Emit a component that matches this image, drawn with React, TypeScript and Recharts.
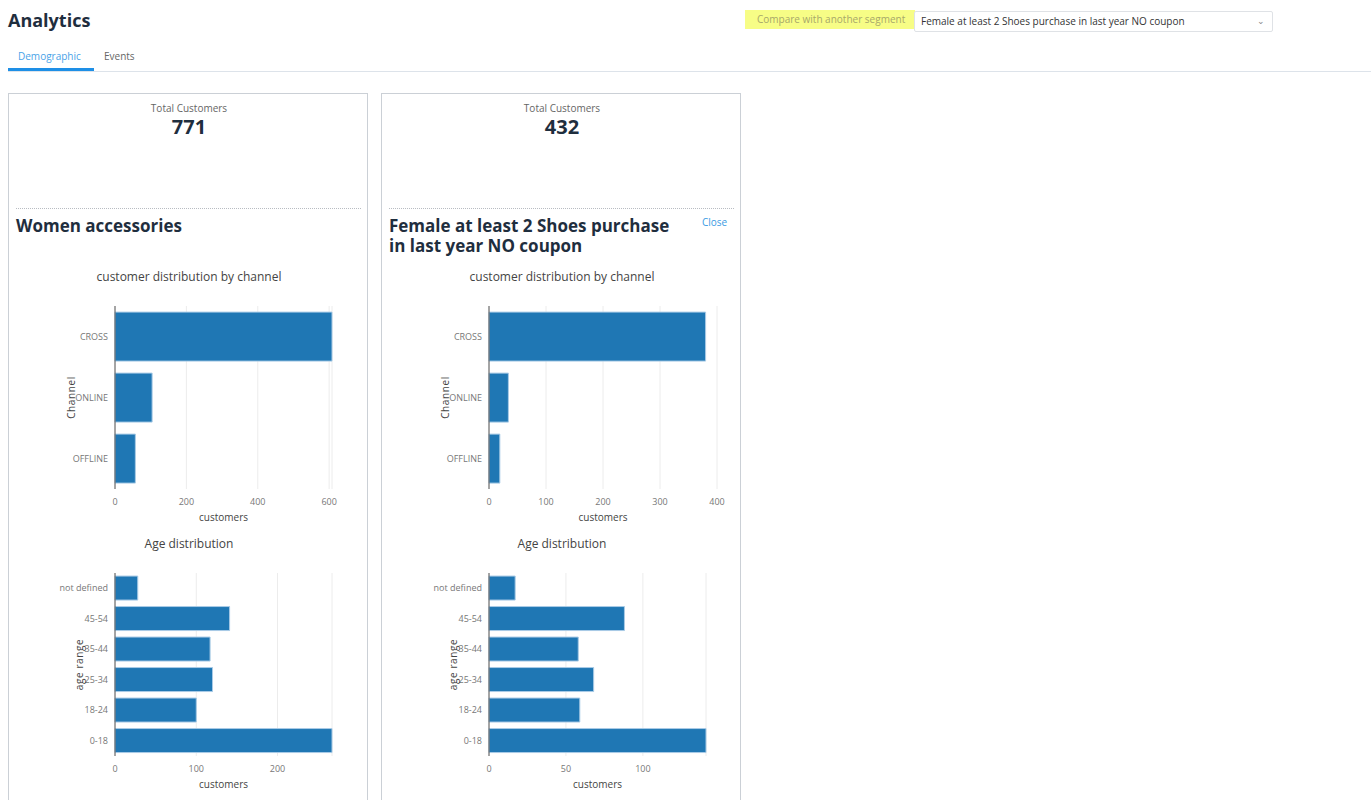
import React from 'react';
import { BarChart, Bar, XAxis, YAxis, CartesianGrid } from 'recharts';

// values
const channelCategories = ['CROSS', 'ONLINE', 'OFFLINE'];
const womenChannelValues = [608, 104, 57];
const shoesChannelValues = [380, 34, 19];

const ageCategories = ['not defined', '45-54', '35-44', '25-34', '18-24', '0-18'];
const womenAgeValues = [28, 141, 117, 120, 100, 267];
const shoesAgeValues = [17, 88, 58, 68, 59, 141];

const womenChannelTicks = [0, 200, 400, 600];
const shoesChannelTicks = [0, 100, 200, 300, 400];
const womenAgeTicks = [0, 100, 200];
const shoesAgeTicks = [0, 50, 100];

const toRows = (cats: string[], vals: number[]) =>
  cats.map((name, i) => ({ name, customers: vals[i] }));

const FONT = '"Open Sans", Arial, sans-serif';
const NAVY = '#1f2e3e';

// plain svg text so long category names don't get wrapped
const CategoryTick = ({ x, y, payload }: any) => (
  <text x={x} y={y} dy={3} textAnchor="end" fontSize={9} fill="#777">
    {payload.value}
  </text>
);

type HBarProps = {
  rows: { name: string; customers: number }[];
  ticks: number[];
  domain: [number, number | string];
  yLabel: string;
  yWidth: number;
  width: number;
  left: number;
  top: number;
};

function HBar({ rows, ticks, domain, yLabel, yWidth, width, left, top }: HBarProps) {
  return (
    <div style={{ position: 'absolute', left, top }}>
      <BarChart
        width={width}
        height={235}
        data={rows}
        layout="vertical"
        barCategoryGap="10%"
        margin={{ top: 10, right: 9, bottom: 2, left: 6 }}
      >
        <CartesianGrid horizontal={false} stroke="#ececec" />
        <XAxis
          type="number"
          domain={domain as any}
          ticks={ticks}
          interval={0}
          axisLine={false}
          tickLine={false}
          tickSize={0}
          tickMargin={10}
          height={40}
          tick={{ fontSize: 9, fill: '#777' }}
          label={{ value: 'customers', position: 'insideBottom', offset: 8, fontSize: 10, fill: '#444' }}
        />
        <YAxis
          type="category"
          dataKey="name"
          width={yWidth}
          interval={0}
          axisLine={{ stroke: '#555' }}
          tickLine={false}
          tickSize={0}
          tickMargin={7}
          tick={<CategoryTick />}
          label={{ value: yLabel, angle: -90, position: 'center', fontSize: 10, fill: '#444', letterSpacing: 0.6 }}
        />
        <Bar dataKey="customers" fill="#1f77b4" stroke="#a9cbe6" strokeWidth={1} isAnimationActive={false} />
      </BarChart>
    </div>
  );
}

type CardProps = {
  left: number;
  dx: number;
  total: string;
  title: React.ReactNode;
  showClose?: boolean;
  channelValues: number[];
  channelTicks: number[];
  channelDomain: [number, number | string];
  channelWidth: number;
  ageValues: number[];
  ageTicks: number[];
};

function Card(p: CardProps) {
  const chartTitle: React.CSSProperties = {
    position: 'absolute',
    left: 0,
    width: 360,
    textAlign: 'center',
    fontSize: 12,
    lineHeight: '16px',
    color: '#444',
  };
  return (
    <div
      style={{
        position: 'absolute',
        left: p.left,
        top: 93,
        width: 358,
        height: 720,
        border: '1px solid #cbd0d6',
        background: '#fff',
      }}
    >
      <div style={{ position: 'absolute', left: 0, top: 7, width: 360, textAlign: 'center', fontSize: 10, lineHeight: '14px', color: '#666' }}>
        Total Customers
      </div>
      <div style={{ position: 'absolute', left: 0, top: 21, width: 360, textAlign: 'center', fontSize: 20, fontWeight: 700, lineHeight: '24px', color: NAVY }}>
        {p.total}
      </div>
      <div style={{ position: 'absolute', left: 7, top: 114, width: 345, borderTop: '1px dotted #b8bcc2' }} />
      <div style={{ position: 'absolute', left: 7, top: 122, width: 300, fontSize: 17, fontWeight: 700, lineHeight: '20px', color: NAVY }}>
        {p.title}
      </div>
      {p.showClose && (
        <div style={{ position: 'absolute', left: 320, top: 121, fontSize: 10, lineHeight: '14px', color: '#3a9be3' }}>Close</div>
      )}
      <div style={{ ...chartTitle, top: 175 }}>customer distribution by channel</div>
      <HBar
        rows={toRows(channelCategories, p.channelValues)}
        ticks={p.channelTicks}
        domain={p.channelDomain}
        yLabel="Channel"
        yWidth={88}
        width={p.channelWidth}
        left={12 + p.dx}
        top={202}
      />
      <div style={{ ...chartTitle, top: 442 }}>Age distribution</div>
      <HBar
        rows={toRows(ageCategories, p.ageValues)}
        ticks={p.ageTicks}
        domain={[0, 'dataMax']}
        yLabel="age range"
        yWidth={72}
        width={304}
        left={28 + p.dx}
        top={469}
      />
    </div>
  );
}

export default function App() {
  return (
    <div
      style={{
        position: 'absolute',
        left: 0,
        top: 0,
        width: 1371,
        height: 800,
        overflow: 'hidden',
        background: '#fff',
        fontFamily: FONT,
      }}
    >
      <div style={{ position: 'absolute', left: 8, top: 8, fontSize: 18, fontWeight: 700, lineHeight: '24px', color: NAVY }}>
        Analytics
      </div>

      <div style={{ position: 'absolute', left: 745, top: 10, width: 170, height: 19, background: '#f7fd86' }} />
      <div style={{ position: 'absolute', left: 757, top: 12, fontSize: 10, lineHeight: '15px', color: '#a7a86a' }}>
        Compare with another segment
      </div>
      <div
        style={{
          position: 'absolute',
          left: 914,
          top: 11,
          width: 357,
          height: 19,
          border: '1px solid #dfe2e6',
          borderRadius: 2,
          background: '#fff',
        }}
      >
        <div style={{ position: 'absolute', left: 6, top: 2, fontSize: 10, lineHeight: '15px', color: '#333' }}>
          Female at least 2 Shoes purchase in last year NO coupon
        </div>
        <div style={{ position: 'absolute', right: 7, top: 1, fontSize: 9, lineHeight: '15px', color: '#888' }}>⌄</div>
      </div>

      <div style={{ position: 'absolute', left: 18, top: 49, fontSize: 10, lineHeight: '15px', color: '#4aa3e8' }}>Demographic</div>
      <div style={{ position: 'absolute', left: 104, top: 49, fontSize: 10, lineHeight: '15px', color: '#666' }}>Events</div>
      <div style={{ position: 'absolute', left: 8, top: 71, width: 1363, height: 1, background: '#dde3ea' }} />
      <div style={{ position: 'absolute', left: 8, top: 68, width: 86, height: 3, background: '#1e8fe6' }} />

      <Card
        left={8}
        dx={0}
        total="771"
        title="Women accessories"
        channelValues={womenChannelValues}
        channelTicks={womenChannelTicks}
        channelDomain={[0, 'dataMax']}
        channelWidth={320}
        ageValues={womenAgeValues}
        ageTicks={womenAgeTicks}
      />
      <Card
        left={381}
        dx={1}
        total="432"
        title={
          <>
            Female at least 2 Shoes purchase
            <br />
            in last year NO coupon
          </>
        }
        showClose
        channelValues={shoesChannelValues}
        channelTicks={shoesChannelTicks}
        channelDomain={[0, 400]}
        channelWidth={331}
        ageValues={shoesAgeValues}
        ageTicks={shoesAgeTicks}
      />
    </div>
  );
}
